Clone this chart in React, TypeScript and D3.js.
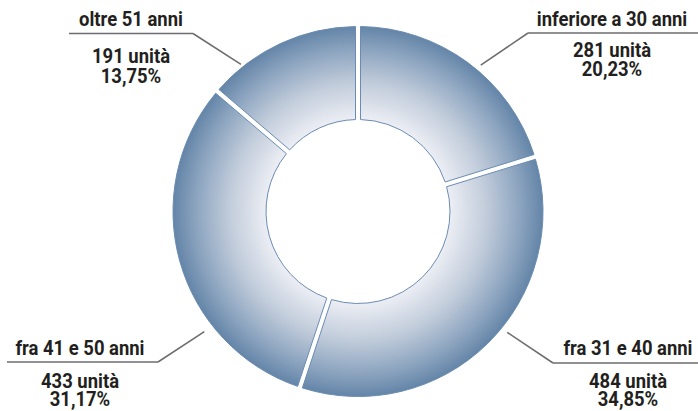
import React from "react";
import * as d3 from "d3";

// Age bands of staff and their head counts
const categories = ["inferiore a 30 anni", "fra 31 e 40 anni", "fra 41 e 50 anni", "oltre 51 anni"];
const units = [281, 484, 433, 191];

// Label placement per category (name line, underline, values, leader end)
const labelLayout = [
  { cx: 612, nameY: 26, lineY: 33, x0: 528, x1: 698, elbow: 528, valY: 57, lead: 19, angle: 40, radius: 191 },
  { cx: 628, nameY: 355, lineY: 363, x0: 553, x1: 698, elbow: 553, valY: 388, lead: 18, angle: 129, radius: 192 },
  { cx: 80, nameY: 355, lineY: 362, x0: 7, x1: 158, elbow: 158, valY: 388, lead: 18, angle: 232, radius: 195 },
  { cx: 131, nameY: 26, lineY: 33.5, x0: 69, x1: 193, elbow: 193, valY: 63, lead: 20, angle: 321.5, radius: 188 },
];

const W = 698;
const H = 411;
const CX = 358;
const CY = 211.5;
const R_OUT = 185;
const R_IN = 92;

const itLocale = d3.formatLocale({ decimal: ",", thousands: ".", grouping: [3], currency: ["", " €"] });
const fmtPct = itLocale.format(".2f");

const FONT = "Roboto, 'Liberation Sans', sans-serif";
const SX = 0.9;
const SIZE = 20.5;

// A block of centred lines, squeezed horizontally to a condensed look
function Label({ x, y, lines, lead = 0 }: { x: number; y: number; lines: string[]; lead?: number }) {
  return (
    <g transform={`translate(${x},${y}) scale(${SX},1)`}>
      <text textAnchor="middle" fontFamily={FONT} fontWeight={700} fontSize={SIZE} fill="#231f20">
        {lines.map((t, k) => (
          <tspan key={k} x={0} dy={k === 0 ? 0 : lead}>
            {t}
          </tspan>
        ))}
      </text>
    </g>
  );
}

export default function App() {
  const total = d3.sum(units);
  const pie = d3.pie<number>().sort(null).value((d) => d).padAngle(0);
  const arcs = pie(units);
  const padW = 5;
  const arc = d3
    .arc<d3.PieArcDatum<number>>()
    .innerRadius(R_IN)
    .outerRadius(R_OUT)
    .padRadius(R_OUT)
    .padAngle(padW / R_OUT);

  return (
    <svg width={W} height={H} style={{ position: "absolute", left: 0, top: 0, background: "#fff" }}>
      <defs>
        <radialGradient id="ringFill" gradientUnits="userSpaceOnUse" cx={0} cy={0} r={R_OUT}>
          <stop offset={R_IN / R_OUT} stopColor="#eceef4" />
          <stop offset={0.7} stopColor="#c0cbda" />
          <stop offset={0.86} stopColor="#91a8c2" />
          <stop offset={1} stopColor="#6485a8" />
        </radialGradient>
      </defs>
      <g transform={`translate(${CX},${CY})`}>
        {arcs.map((a, i) => (
          <path key={categories[i]} d={arc(a) ?? ""} fill="url(#ringFill)" stroke="#6a8cb2" strokeWidth={1} />
        ))}
      </g>
      {arcs.map((a, i) => {
        const L = labelLayout[i];
        const [px, py] = d3.pointRadial((L.angle * Math.PI) / 180, L.radius);
        const pct = fmtPct((units[i] / total) * 100) + "%";
        return (
          <g key={categories[i]}>
            <path
              d={`M${L.x0},${L.lineY}H${L.x1}M${L.elbow},${L.lineY}L${CX + px},${CY + py}`}
              fill="none"
              stroke="#6d6e71"
              strokeWidth={1.6}
            />
            <Label x={L.cx} y={L.nameY} lines={[categories[i]]} />
            <Label x={L.cx} y={L.valY} lines={[`${units[i]} unità`, pct]} lead={L.lead} />
          </g>
        );
      })}
    </svg>
  );
}
